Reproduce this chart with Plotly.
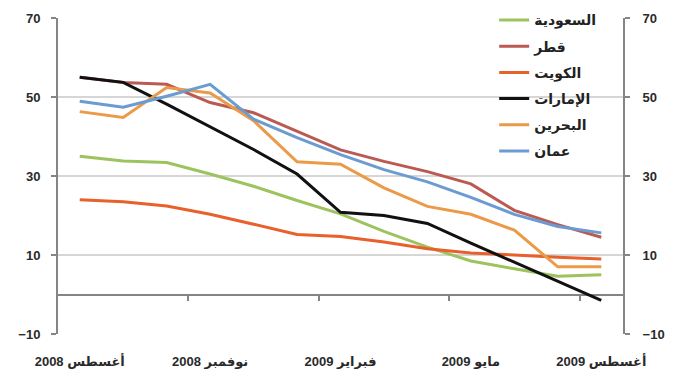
import plotly.graph_objects as go

# Monthly positions, August 2008 .. August 2009 (13 months)
months = list(range(13))
tick_pos = [0, 3, 6, 9, 12]
tick_text = ["أغسطس 2008", "نوفمبر 2008", "فبراير 2009", "مايو 2009", "أغسطس 2009"]
between_ticks = [2.5, 5.5, 8.5, 11.5]
y_ticks = [-10, 10, 30, 50, 70]
grid_vals = [10, 30, 50]

saudi = [35, 33.8, 33.4, 30.5, 27.4, 23.8, 20.4, 16.0, 12.0, 8.5, 6.5, 4.6, 5.0]
qatar = [55, 53.7, 53.2, 48.6, 46.0, 41.3, 36.6, 33.7, 31.1, 28.0, 21.3, 17.7, 14.5]
kuwait = [24, 23.5, 22.4, 20.3, 17.8, 15.2, 14.7, 13.3, 11.6, 10.5, 10.0, 9.4, 9.0]
uae = [55, 53.7, 48.2, 42.5, 36.7, 30.5, 20.8, 20.0, 18.0, 13.0, 8.2, 3.3, -1.5]
bahrain = [46.3, 44.8, 52.4, 51.0, 44.0, 33.6, 33.0, 27.0, 22.3, 20.3, 16.3, 7.0, 7.0]
oman = [48.9, 47.4, 50.2, 53.2, 44.4, 39.7, 35.4, 31.6, 28.5, 24.6, 20.3, 17.2, 15.6]

series = [
    ("السعودية", saudi, "#9dc35f"),
    ("قطر", qatar, "#bb5a53"),
    ("الكويت", kuwait, "#e8602c"),
    ("الإمارات", uae, "#111111"),
    ("البحرين", bahrain, "#eb9a48"),
    ("عمان", oman, "#6a9bd1"),
]

FONT = "Liberation Sans, Arial, DejaVu Sans, sans-serif"
AXIS_GREY = "#858585"
LABEL_FONT = dict(family=FONT, size=13, color="#2a2a2a", weight="bold")

fig = go.Figure()
for i, (name, vals, color) in enumerate(series):
    fig.add_trace(go.Scatter(
        x=months, y=vals, name=name, mode="lines",
        line=dict(color=color, width=3),
        legendgroup=f"g{i}",
    ))

# empty trace so the right-hand value axis is drawn
fig.add_trace(go.Scatter(
    x=months, y=[None] * len(months), yaxis="y2",
    showlegend=False, hoverinfo="skip", mode="lines",
))

fig.update_layout(
    width=673, height=383,
    margin=dict(l=58, r=50, t=18, b=49, autoexpand=False),
    paper_bgcolor="white", plot_bgcolor="white",
    font=dict(family=FONT, size=13, color="#2a2a2a"),
    showlegend=True,
    legend=dict(
        x=0.772, y=1.043, xanchor="left", yanchor="top",
        bgcolor="rgba(0,0,0,0)", borderwidth=0,
        tracegroupgap=5, itemwidth=30,
        font=dict(family=FONT, size=14, color="#222222", weight="bold"),
    ),
    xaxis=dict(
        range=[-0.5, 12.5], fixedrange=True,
        anchor="free", position=0.125,
        showline=True, linecolor=AXIS_GREY, linewidth=2,
        showgrid=False, zeroline=False,
        tickmode="array", tickvals=tick_pos, ticktext=tick_text,
        ticks="", ticklabelstandoff=55,
        tickfont=LABEL_FONT,
        minor=dict(tickmode="array", tickvals=between_ticks, ticks="outside",
                   ticklen=5, tickwidth=2, tickcolor=AXIS_GREY, showgrid=False),
        layer="below traces",
    ),
    yaxis=dict(
        range=[-10, 70], fixedrange=True,
        showline=True, linecolor=AXIS_GREY, linewidth=2,
        zeroline=False, showgrid=False,
        tickmode="array", tickvals=y_ticks,
        ticks="outside", ticklen=5, tickwidth=2, tickcolor=AXIS_GREY,
        ticklabelstandoff=8,
        tickfont=LABEL_FONT,
        minor=dict(tickmode="array", tickvals=grid_vals, ticks="",
                   showgrid=True, gridcolor="#d6d6d6", gridwidth=1.5),
        layer="below traces",
    ),
    yaxis2=dict(
        range=[-10, 70], fixedrange=True,
        overlaying="y", side="right", anchor="x",
        showline=True, linecolor=AXIS_GREY, linewidth=2,
        zeroline=False, showgrid=False,
        tickmode="array", tickvals=y_ticks,
        ticks="outside", ticklen=5, tickwidth=2, tickcolor=AXIS_GREY,
        ticklabelstandoff=10,
        tickfont=LABEL_FONT,
    ),
)

fig.write_html("out.html")
